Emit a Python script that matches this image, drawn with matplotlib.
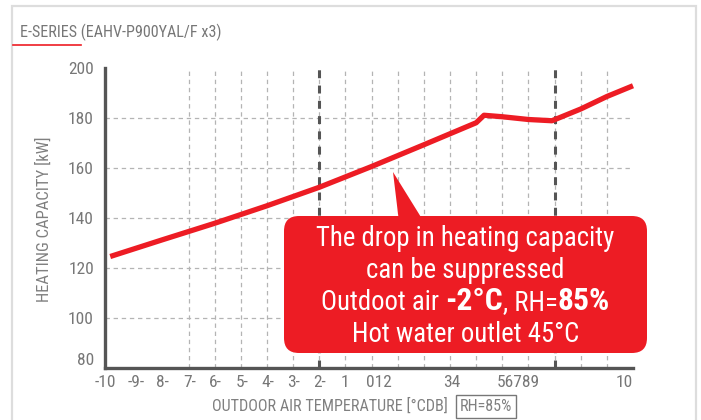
import matplotlib
matplotlib.use('Agg')
import matplotlib.pyplot as plt
from matplotlib import font_manager
from matplotlib.patches import FancyBboxPatch, Polygon, Rectangle
from matplotlib.lines import Line2D

# heating capacity curve
temp = [-10, -8, -6, -4, -2, 0, 2, 4, 4.3, 5, 6, 6.9, 8, 9, 10]
capacity = [124.6, 131.3, 137.9, 144.9, 152.3, 160.6, 169.3, 178.1, 181.1,
            180.5, 179.4, 178.9, 183.6, 188.6, 192.9]

# odd tick labels as they appear on the original
xtick_pos = [-10.2, -9.0, -8.0, -6.95, -5.97, -4.96, -3.98, -2.97, -1.97,
             -1.02, 0.28, 3.07, 5.61, 9.66]
xtick_lab = ['-10', '-9-', '8-', '7-', '6-', '5-', '4-', '3-', '2-', '1',
             '012', '34', '56789', '10']
ytick_pos = [80, 100, 120, 140, 160, 180, 200]
marker_temps = [-2, 7]

RED = '#ED1C24'
DARK = '#555555'
GREY = '#808080'

names = {f.name for f in font_manager.fontManager.ttflist}
cond = 'Roboto'
for n in ['Roboto Condensed', 'Liberation Sans Narrow']:
    if n in names:
        cond = n
        break
plt.rcParams['font.family'] = [cond, 'DejaVu Sans']

W, H = 701, 420
fig = plt.figure(figsize=(W / 100, H / 100), dpi=100)
px = fig.dpi_scale_trans  # inches, 1 in = 100 px

def P(x, y):
    # pixel from top-left -> inches from bottom-left
    return (x / 100, (H - y) / 100)

# card frame
fig.patches.append(Rectangle(P(12, 460), 6.84, 4.54, transform=px,
                             fill=False, ec='#dddddd', lw=1.6))
fig.text(*P(20, 32), 'E-SERIES (EAHV-P900YAL/F x3)', transform=px,
         fontsize=11.6, color='#777777', va='center')
fig.lines.append(Line2D([0.13, 0.81], [(H - 45) / 100] * 2, transform=px,
                        color=RED, lw=1.2))

ax = fig.add_axes([105 / W, 1 - 368 / H, 528 / W, 300 / H])
ax.set_xlim(-10, 10)
ax.set_ylim(80, 200)

ax.set_xticks(xtick_pos)
ax.set_xticklabels(xtick_lab)
ax.set_xticks(range(-9, 10), minor=True)
ax.set_yticks(ytick_pos)
ax.tick_params(which='both', length=0, colors='#777777', labelsize=12.5)
ax.tick_params(axis='x', pad=5)
ax.tick_params(axis='y', pad=8)
ax.get_yticklabels()[0].set_va('bottom')

ax.grid(False)
ax.grid(True, axis='x', which='minor', color='#b4b4b4', lw=0.9,
        linestyle=(0, (3.5, 3)))
ax.grid(True, axis='y', which='major', color='#b4b4b4', lw=0.9,
        linestyle=(0, (3.5, 3)))
ax.yaxis.get_gridlines()[-1].set_visible(False)
for s in ['top', 'right']:
    ax.spines[s].set_visible(False)
for s in ['left', 'bottom']:
    ax.spines[s].set_color(DARK)
    ax.spines[s].set_linewidth(2.4)

for t in marker_temps:
    ax.axvline(t, color=DARK, lw=2.2, linestyle=(0, (2.6, 2.4)), zorder=3)

ax.plot(temp, capacity, color=RED, lw=3.8, solid_joinstyle='round',
        solid_capstyle='butt', zorder=4, clip_on=False)

fig.text(*P(44, 219), 'HEATING CAPACITY [kW]', transform=px, rotation=90,
         fontsize=12, color=GREY, ha='center', va='center')
fig.text(*P(330, 406), 'OUTDOOR AIR TEMPERATURE [°CDB]', transform=px,
         fontsize=11.6, color=GREY, ha='center', va='center')
fig.text(*P(486, 406.5), 'RH=85%', transform=px, fontsize=11.6, color=GREY,
         ha='center', va='center',
         bbox=dict(boxstyle='square,pad=0.22', fc='none', ec='#777777', lw=1))

# callout
fig.patches.append(FancyBboxPatch(P(284, 353), 3.63, 1.37, transform=px,
                                  boxstyle='round,pad=0,rounding_size=0.15',
                                  fc=RED, ec='none', zorder=5))
fig.patches.append(Polygon([P(393, 172), P(399, 222), P(424, 222)],
                           closed=True, transform=px, fc=RED, ec='none',
                           zorder=5))
cx = 465.5
fs = 19.3
for y, s in [(238, 'The drop in heating capacity'), (270, 'can be suppressed'),
             (334, 'Hot water outlet 45°C')]:
    fig.text(*P(cx, y), s, transform=px, fontsize=fs, color='white',
             ha='center', va='center', zorder=6)

parts = [('Outdoot air ', 'normal', fs), ('-2°C', 'bold', fs * 1.18),
         (', RH=', 'normal', fs), ('85%', 'bold', fs * 1.18)]
r = fig.canvas.get_renderer()
objs = []
for s, w, f in parts:
    t = fig.text(0, 0, s, transform=px, fontsize=f, fontweight=w,
                 color='white', ha='left', va='baseline', zorder=6)
    objs.append(t)
widths = [t.get_window_extent(r).width for t in objs]
x0 = cx - sum(widths) / 2
for t, wd in zip(objs, widths):
    t.set_position((x0 / 100, (H - 310) / 100))
    x0 += wd

fig.savefig('out.png', dpi=100)
